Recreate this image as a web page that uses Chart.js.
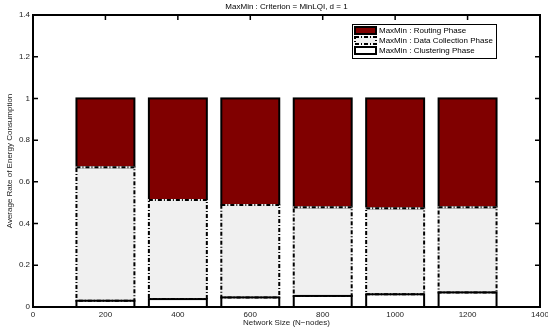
<!DOCTYPE html>
<html><head><meta charset="utf-8">
<script src="https://cdn.jsdelivr.net/npm/chart.js@4/dist/chart.umd.min.js"></script>
<style>html,body{margin:0;padding:0;background:#fff}#wrap{width:548px;height:331px;position:relative}</style>
</head><body><div id="wrap"><canvas id="c"></canvas></div>
<script>
const networkSizes = [200, 400, 600, 800, 1000, 1200];
const clusteringPhase = [0.030, 0.038, 0.046, 0.053, 0.061, 0.070];
const dataCollectionPhase = [0.640, 0.475, 0.443, 0.425, 0.412, 0.408];
const routingPhase = [0.330, 0.487, 0.511, 0.522, 0.527, 0.522];
const xTickValues = [0, 200, 400, 600, 800, 1000, 1200, 1400];
const yTickValues = [0, 0.2, 0.4, 0.6, 0.8, 1, 1.2, 1.4];
const chartTitle = 'MaxMin : Criterion = MinLQI, d = 1';
const xAxisTitle = 'Network Size (N\u2212nodes)';
const yAxisTitle = 'Average Rate of Energy Consumption';
const legendOrder = [2, 1, 0];

const FONT = 'Liberation Sans, Arial, Helvetica, sans-serif';
const toPoints = vals => networkSizes.map((x, i) => ({x: x, y: vals[i]}));

const datasets = [
  {label: 'MaxMin : Clustering Phase', data: toPoints(clusteringPhase), backgroundColor: '#ffffff', edgeDash: []},
  {label: 'MaxMin : Data Collection Phase', data: toPoints(dataCollectionPhase), backgroundColor: '#f0f0f0', edgeDash: [4, 2, 1, 2]},
  {label: 'MaxMin : Routing Phase', data: toPoints(routingPhase), backgroundColor: '#800000', edgeDash: []}
].map(d => Object.assign(d, {borderWidth: 0, categoryPercentage: 1, barPercentage: 0.8, stack: 's'}));

function strokeBox(ctx, l, t, w, h, dash, under) {
  ctx.save();
  ctx.lineWidth = 2;
  if (dash.length) {
    ctx.strokeStyle = under;
    ctx.setLineDash([]);
    ctx.strokeRect(l, t, w, h);
  }
  ctx.strokeStyle = '#000';
  ctx.setLineDash(dash);
  ctx.strokeRect(l, t, w, h);
  ctx.restore();
}

const axesPlugin = {
  id: 'matlabAxes',
  beforeDatasetsDraw(chart) {
    const {ctx, chartArea: a, scales} = chart;
    ctx.save();
    ctx.strokeStyle = '#000';
    ctx.lineWidth = 1.5;
    ctx.beginPath();
    scales.x.ticks.forEach(t => {
      const px = scales.x.getPixelForValue(t.value);
      ctx.moveTo(px, a.bottom); ctx.lineTo(px, a.bottom - 5);
      ctx.moveTo(px, a.top); ctx.lineTo(px, a.top + 5);
    });
    scales.y.ticks.forEach(t => {
      const py = scales.y.getPixelForValue(t.value);
      ctx.moveTo(a.left, py); ctx.lineTo(a.left + 5, py);
      ctx.moveTo(a.right, py); ctx.lineTo(a.right - 5, py);
    });
    ctx.stroke();
    ctx.lineWidth = 2;
    ctx.strokeRect(a.left, a.top, a.right - a.left, a.bottom - a.top);
    ctx.restore();
  },
  afterDatasetsDraw(chart) {
    const {ctx} = chart;
    [2, 1, 0].forEach(di => {
      const ds = chart.data.datasets[di];
      chart.getDatasetMeta(di).data.forEach(bar => {
        const p = bar.getProps(['x', 'y', 'base', 'width'], true);
        const top = Math.min(p.y, p.base), h = Math.abs(p.base - p.y);
        strokeBox(ctx, p.x - p.width / 2, top, p.width, h, ds.edgeDash, ds.backgroundColor);
      });
    });
  },
  afterDraw(chart) {
    const {ctx, chartArea: a} = chart;
    ctx.save();
    // title
    ctx.fillStyle = '#000';
    ctx.font = '8px ' + FONT;
    ctx.textAlign = 'center';
    ctx.textBaseline = 'middle';
    ctx.fillText(chartTitle, (a.left + a.right) / 2, 7);
    // legend
    const lx = a.right - 188, ly = a.top + 9, lw = 144, lh = 34;
    ctx.fillStyle = '#fff';
    ctx.fillRect(lx, ly, lw, lh);
    ctx.strokeStyle = '#000';
    ctx.lineWidth = 1;
    ctx.strokeRect(lx + 0.5, ly + 0.5, lw, lh);
    legendOrder.forEach((di, r) => {
      const ds = chart.data.datasets[di];
      const cy = ly + 6.5 + r * 10;
      ctx.fillStyle = ds.backgroundColor;
      ctx.fillRect(lx + 3, cy - 3.5, 21, 7);
      strokeBox(ctx, lx + 3, cy - 3.5, 21, 7, ds.edgeDash, ds.backgroundColor);
      ctx.fillStyle = '#000';
      ctx.textAlign = 'left';
      ctx.textBaseline = 'middle';
      ctx.font = '8px ' + FONT;
      ctx.fillText(ds.label, lx + 27, cy + 0.5);
    });
    ctx.restore();
  }
};

new Chart(document.getElementById('c'), {
  type: 'bar',
  data: {datasets: datasets},
  plugins: [axesPlugin],
  options: {
    responsive: true,
    maintainAspectRatio: false,
    animation: false,
    devicePixelRatio: 1,
    layout: {padding: {top: 15, right: 8, left: 0, bottom: 0}},
    plugins: {legend: {display: false}, title: {display: false}, tooltip: {enabled: false}},
    scales: {
      x: {
        type: 'linear', min: 0, max: 1400, stacked: true, offset: false,
        afterBuildTicks: s => { s.ticks = xTickValues.map(v => ({value: v})); },
        afterFit: s => { s.height = 24; s.paddingLeft = 0; s.paddingRight = 0; },
        grid: {display: false, drawTicks: false},
        border: {display: false},
        ticks: {padding: 3, color: '#222', font: {family: FONT, size: 8}, maxRotation: 0, autoSkip: false, callback: v => String(v)},
        title: {display: true, text: xAxisTitle, color: '#222', font: {family: FONT, size: 8}, padding: {top: 0, bottom: 3}}
      },
      y: {
        min: 0, max: 1.4, stacked: true,
        afterBuildTicks: s => { s.ticks = yTickValues.map(v => ({value: v})); },
        afterFit: s => { s.width = 33; s.paddingTop = 0; s.paddingBottom = 0; },
        grid: {display: false, drawTicks: false},
        border: {display: false},
        ticks: {padding: 3, color: '#222', font: {family: FONT, size: 8}, autoSkip: false, callback: v => String(v)},
        title: {display: true, text: yAxisTitle, color: '#222', font: {family: FONT, size: 8}, padding: {top: 5, bottom: 0}}
      }
    }
  }
});
</script>
</body></html>
